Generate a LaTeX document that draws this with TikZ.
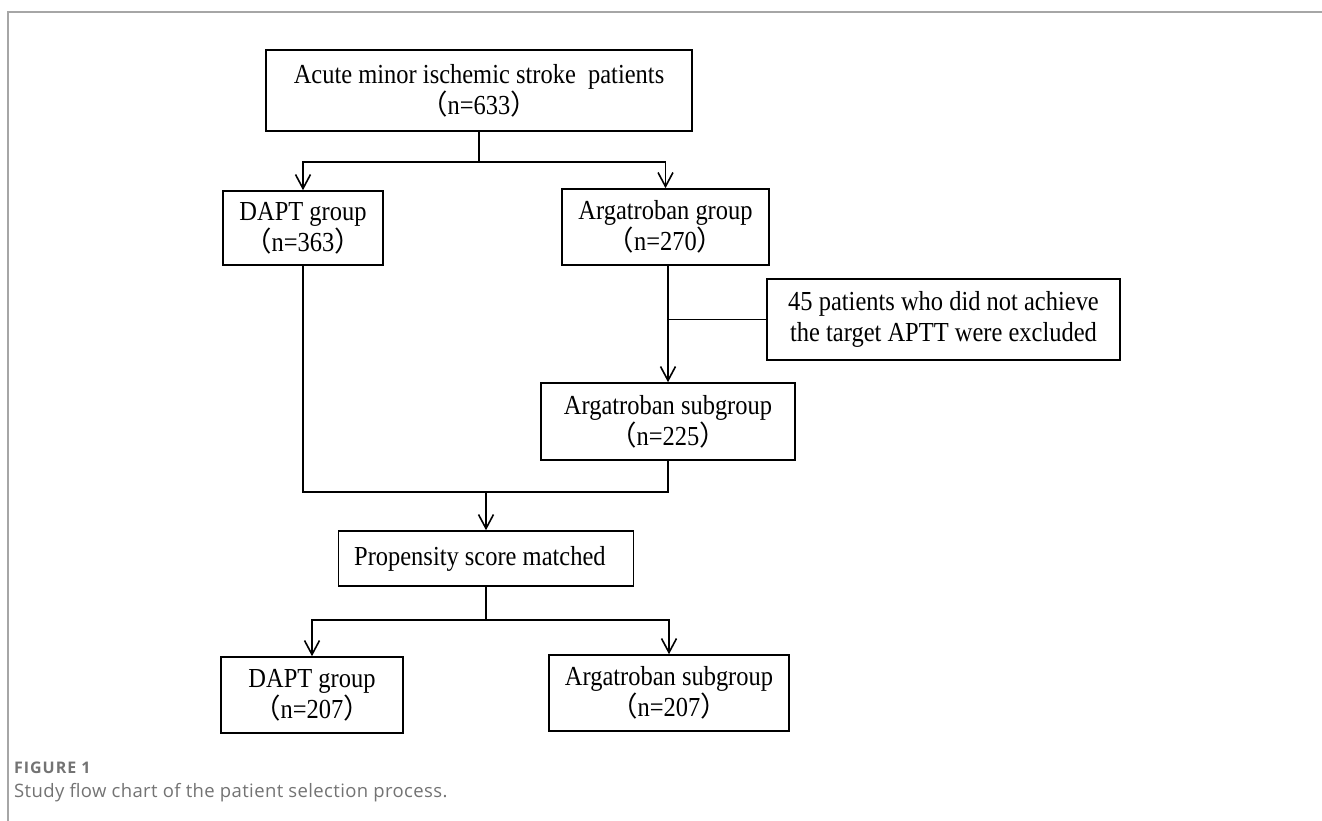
\documentclass[tikz,border=0pt]{standalone}
\usepackage{fontspec}
\setmainfont{Liberation Serif}[FakeStretch=0.89]
\newfontfamily\cjk{Noto Sans CJK SC}
\newfontfamily\capfont{Open Sans}
\usetikzlibrary{arrows.meta}

\newcommand{\fwl}{{\cjk （}}
\newcommand{\fwr}{{\cjk ）}}

\begin{document}
\begin{tikzpicture}[x=1pt, y=-1pt,
  box/.style={draw, line width=1.6pt, inner sep=0pt, align=center,
    font=\fontsize{27.5}{31}\selectfont},
  link/.style={line width=1.6pt},
  arr/.style={link, -{Straight Barb[length=14pt, width=15pt, line width=1.6pt]}},
  caphead/.style={anchor=base west, inner sep=0pt, text=black!55,
    font=\capfont\bfseries\fontsize{16}{18}\selectfont\addfontfeature{LetterSpace=6}},
  captext/.style={anchor=base west, inner sep=0pt, text=black!55,
    font=\capfont\fontsize{18.5}{22}\selectfont\addfontfeature{LetterSpace=2}}]
\useasboundingbox (0,0) rectangle (1322,821);
% frame of the figure
\draw[black!35, line width=1.5pt] (8,821) -- (8,12) -- (1322,12);
% boxes
\node[box, minimum width=426pt, minimum height=81pt] (top) at (479,90.5)
  {Acute minor ischemic stroke\ \ patients\\ \fwl n=633\fwr};
\node[box, minimum width=160pt, minimum height=74pt] (dapt1) at (303,228)
  {DAPT group\\ \fwl n=363\fwr};
\node[box, minimum width=207pt, minimum height=76pt] (arg1) at (665.5,227)
  {Argatroban group\\ \fwl n=270\fwr};
\node[box, minimum width=353pt, minimum height=81pt] (excl) at (943.5,319.5)
  {45 patients who did not achieve\\ the target APTT were excluded};
\node[box, minimum width=254pt, minimum height=77pt] (sub) at (668,421.5)
  {Argatroban subgroup\\ \fwl n=225\fwr};
\node[box, minimum width=295pt, minimum height=55pt] (psm) at (486,558.5)
  {Propensity score matched\ \ };
\node[box, minimum width=182pt, minimum height=76pt] (dapt2) at (312,695)
  {DAPT group\\ \fwl n=207\fwr};
\node[box, minimum width=240pt, minimum height=76pt] (arg2) at (669,693)
  {Argatroban subgroup\\ \fwl n=207\fwr};
% branch points
\coordinate (split1) at (479,162);
\coordinate (merge) at (486,492);
\coordinate (split2) at (486,620);
% connectors
\draw[link] (top.south) -- (split1);
\draw[arr] (split1) -| (dapt1.north);
\draw[arr] (split1) -| (arg1.north);
\draw[arr] (sub.north |- arg1.south) -- (sub.north);
\draw[link] (excl.west) -- (excl.west -| sub.north);
\draw[link] (dapt1.south) |- (merge) -| (sub.south);
\draw[arr] (merge) -- (psm.north);
\draw[link] (psm.south) -- (split2);
\draw[arr] (split2) -| (dapt2.north);
\draw[arr] (split2) -| (arg2.north);
% caption
\node[caphead] (fighead) at (14,773) {FIGURE 1};
\node[captext] (figtext) at (14,797) {Study flow chart of the patient selection process.};
\end{tikzpicture}
\end{document}
